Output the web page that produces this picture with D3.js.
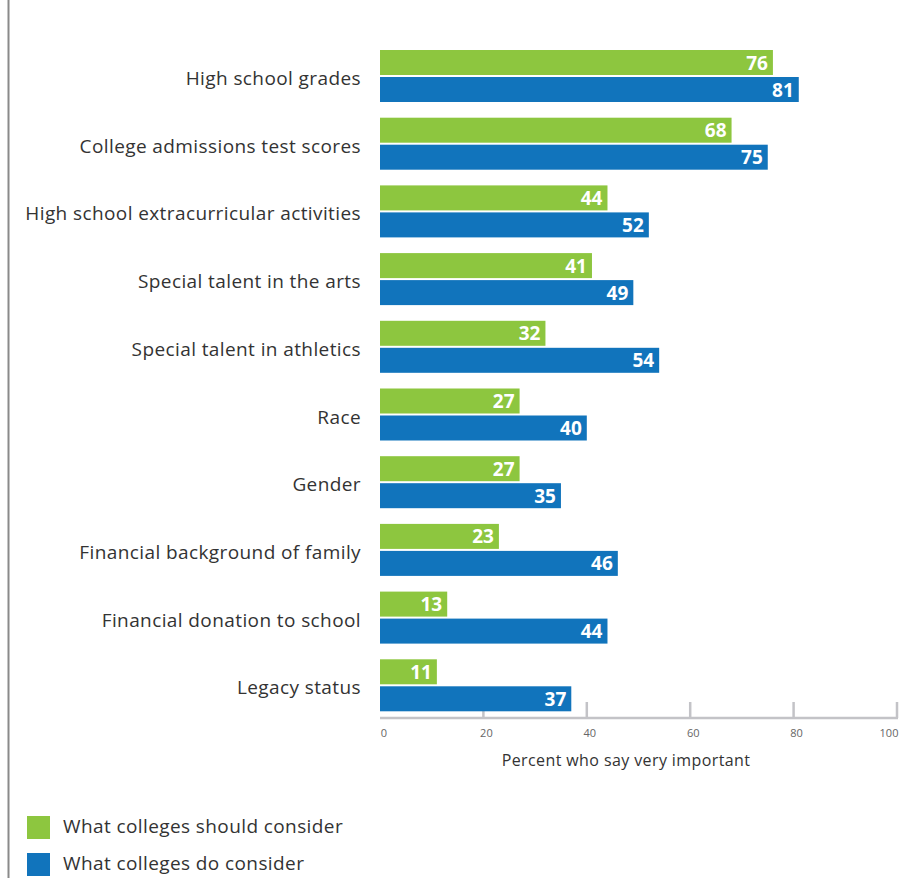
<!DOCTYPE html>
<html>
<head>
<meta charset="utf-8">
<script src="https://cdn.jsdelivr.net/npm/d3@7"></script>
<style>
  body { margin: 0; background: #fff; }
  svg { display: block; font-family: "Open Sans", "Liberation Sans", Arial, sans-serif; }
</style>
</head>
<body>
<div id="chart"></div>
<script>
var categories = [
    'High school grades',
    'College admissions test scores',
    'High school extracurricular activities',
    'Special talent in the arts',
    'Special talent in athletics',
    'Race',
    'Gender',
    'Financial background of family',
    'Financial donation to school',
    'Legacy status'
];
var shouldValues = [76, 68, 44, 41, 32, 27, 27, 23, 13, 11];
var doValues = [81, 75, 52, 49, 54, 40, 35, 46, 44, 37];
var seriesNames = ['What colleges should consider', 'What colleges do consider'];
var tickValues = [0, 20, 40, 60, 80, 100];

var width = 914;
var height = 878;
var green = '#8dc63f';
var blue = '#1174bc';

var svg = d3.select('#chart')
    .append('svg')
    .attr('width', width)
    .attr('height', height);

// left border rule
svg.append('line')
    .attr('x1', 8.5).attr('x2', 8.5)
    .attr('y1', 0).attr('y2', height)
    .attr('stroke', '#8a8a8a')
    .attr('stroke-width', 2);

var x = d3.scaleLinear()
    .domain([0, 100])
    .range([380, 897]);

var y = d3.scaleBand()
    .domain(categories)
    .range([41, 718])
    .paddingInner(0)
    .paddingOuter(0);

var barH = 25;
var barGap = 2;

var rows = categories.map(function(c, i) {
    return { label: c, should: shouldValues[i], does: doValues[i] };
});

// tick marks and axis line
var axisY = 718;
svg.selectAll('line.tick')
    .data(tickValues.slice(1))
    .enter()
    .append('line')
    .attr('class', 'tick')
    .attr('x1', function(d) { return x(d); })
    .attr('x2', function(d) { return x(d); })
    .attr('y1', 702)
    .attr('y2', axisY)
    .attr('stroke', '#c3c3c7')
    .attr('stroke-width', 2.5);

svg.append('line')
    .attr('x1', x(0)).attr('x2', x(100) + 1)
    .attr('y1', axisY).attr('y2', axisY)
    .attr('stroke', '#c3c3c7')
    .attr('stroke-width', 2.5);

var group = svg.selectAll('g.row')
    .data(rows)
    .enter()
    .append('g')
    .attr('class', 'row')
    .attr('transform', function(d) { return 'translate(0,' + (y(d.label) + 9) + ')'; });

group.append('rect')
    .attr('x', x(0))
    .attr('y', 0)
    .attr('width', function(d) { return x(d.should) - x(0); })
    .attr('height', barH)
    .attr('fill', green);

group.append('rect')
    .attr('x', x(0))
    .attr('y', barH + barGap)
    .attr('width', function(d) { return x(d.does) - x(0); })
    .attr('height', barH)
    .attr('fill', blue);

group.append('text')
    .attr('x', function(d) { return x(d.should) - 5; })
    .attr('y', barH / 2 + 7)
    .attr('text-anchor', 'end')
    .attr('fill', '#fff')
    .style('font-size', '19px')
    .style('font-weight', 'bold')
    .text(function(d) { return d.should; });

group.append('text')
    .attr('x', function(d) { return x(d.does) - 5; })
    .attr('y', barH + barGap + barH / 2 + 7)
    .attr('text-anchor', 'end')
    .attr('fill', '#fff')
    .style('font-size', '19px')
    .style('font-weight', 'bold')
    .text(function(d) { return d.does; });

group.append('text')
    .attr('x', 361)
    .attr('y', barH + 10)
    .attr('text-anchor', 'end')
    .attr('fill', '#333')
    .style('font-size', '19px')
    .style('letter-spacing', '0.4px')
    .text(function(d) { return d.label; });

// tick labels
svg.selectAll('text.ticklabel')
    .data(tickValues)
    .enter()
    .append('text')
    .attr('class', 'ticklabel')
    .attr('x', function(d) { return x(d) + (d === 0 ? 4 : d === 100 ? -8 : 3); })
    .attr('y', 737)
    .attr('text-anchor', 'middle')
    .attr('fill', '#666')
    .style('font-size', '11px')
    .text(function(d) { return d; });

svg.append('text')
    .attr('x', 626)
    .attr('y', 766)
    .attr('text-anchor', 'middle')
    .attr('fill', '#333')
    .style('font-size', '16px')
    .style('letter-spacing', '0.4px')
    .text('Percent who say very important');

// legend
var legend = svg.selectAll('g.legend')
    .data(seriesNames)
    .enter()
    .append('g')
    .attr('class', 'legend')
    .attr('transform', function(d, i) { return 'translate(27,' + (816 + i * 37) + ')'; });

legend.append('rect')
    .attr('width', 23)
    .attr('height', 23)
    .attr('fill', function(d, i) { return i === 0 ? green : blue; });

legend.append('text')
    .attr('x', 36)
    .attr('y', 17)
    .attr('fill', '#333')
    .style('font-size', '19px')
    .style('letter-spacing', '0.4px')
    .text(function(d) { return d; });
</script>
</body>
</html>
